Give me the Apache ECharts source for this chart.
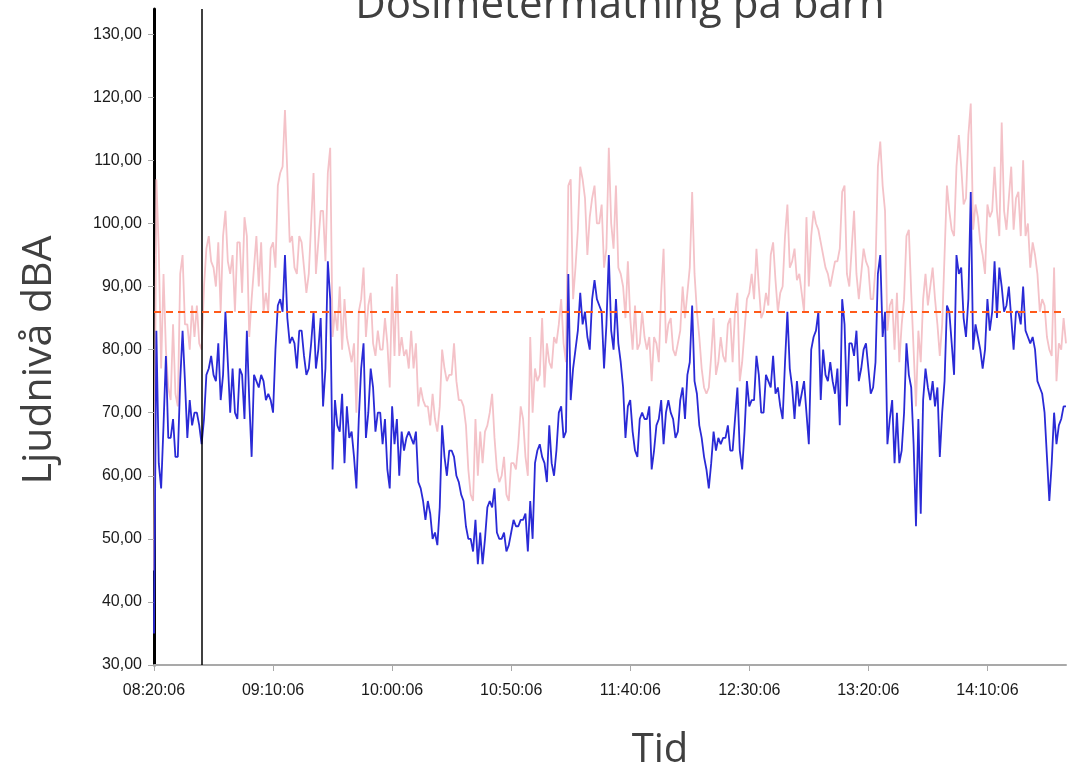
<!DOCTYPE html>
<html>
<head>
<meta charset="utf-8">
<title>Dosimetermätning på barn</title>
<script src="https://cdn.jsdelivr.net/npm/echarts@6/dist/echarts.min.js"></script>
<style>
  html, body { margin: 0; padding: 0; background: #fff; }
  #chart { width: 1079px; height: 769px; }
</style>
</head>
<body>
<div id="chart"></div>
<script>
// one sample per minute, starting 08:20:06
const levelDb = [
  35, 83, 62, 58, 68, 79, 66, 66, 69, 63,
  63, 75, 83, 75, 66, 72, 68, 70, 70, 68,
  65, 69, 76, 77, 79, 76, 75, 81, 72, 76,
  86, 78, 70, 77, 70, 69, 77, 76, 69, 83,
  72, 63, 76, 75, 74, 76, 75, 72, 73, 72,
  70, 80, 87, 88, 86, 95, 85, 81, 82, 81,
  77, 83, 83, 79, 76, 77, 81, 86, 77, 80,
  85, 71, 77, 94, 88, 61, 72, 68, 67, 73,
  62, 71, 66, 67, 63, 58, 69, 77, 81, 66,
  70, 77, 74, 67, 70, 70, 65, 69, 61, 58,
  71, 65, 69, 60, 67, 64, 66, 67, 66, 65,
  67, 59, 58, 56, 53, 56, 54, 50, 51, 49,
  55, 68, 63, 60, 64, 64, 63, 60, 59, 57,
  56, 52, 50, 50, 48, 53, 46, 51, 46, 50,
  55, 56, 55, 58, 51, 50, 50, 51, 48, 49,
  51, 53, 52, 52, 53, 53, 54, 48, 56, 50,
  62, 64, 65, 63, 62, 59, 68, 62, 60, 64,
  70, 71, 66, 67, 92, 72, 77, 80, 83, 89,
  84, 86, 82, 80, 88, 91, 88, 87, 86, 77,
  84, 95, 83, 80, 88, 81, 78, 74, 66, 71,
  72, 67, 64, 63, 69, 70, 69, 69, 71, 61,
  64, 68, 69, 72, 65, 70, 72, 70, 69, 66,
  67, 72, 74, 69, 76, 78, 87, 75, 73, 68,
  66, 63, 61, 58, 62, 67, 64, 66, 65, 66,
  66, 68, 64, 64, 69, 74, 64, 61, 67, 75,
  71, 72, 72, 79, 76, 70, 70, 76, 75, 74,
  79, 73, 74, 71, 69, 78, 86, 77, 74, 69,
  75, 71, 73, 75, 70, 65, 80, 82, 83, 86,
  72, 80, 76, 75, 78, 75, 73, 77, 68, 88,
  84, 71, 81, 81, 79, 83, 75, 77, 80, 81,
  77, 73, 74, 78, 92, 95, 82, 86, 65, 69,
  72, 62, 70, 62, 64, 70, 81, 76, 74, 65,
  52, 69, 54, 72, 77, 74, 72, 75, 71, 74,
  63, 70, 75, 87, 86, 81, 76, 95, 92, 93,
  85, 82, 88, 105, 80, 84, 82, 80, 77, 80,
  88, 83, 86, 94, 85, 93, 90, 86, 87, 90,
  85, 80, 86, 86, 84, 90, 83, 82, 81, 82,
  80, 75, 74, 73, 70, 63, 56, 62, 70, 65,
  68, 69, 71, 71
];
const peakDb = [
  45, 107, 96, 77, 92, 80, 74, 72, 84, 73,
  71, 92, 95, 84, 84, 80, 87, 82, 87, 81,
  80, 90, 96, 98, 94, 93, 90, 97, 86, 98,
  102, 94, 92, 95, 86, 97, 97, 89, 101, 98,
  82, 88, 93, 98, 90, 97, 86, 89, 86, 96,
  97, 93, 106, 108, 109, 118, 108, 97, 98, 93,
  92, 98, 97, 93, 89, 92, 100, 108, 92, 97,
  102, 102, 94, 108, 112, 82, 86, 83, 90, 80,
  88, 82, 80, 78, 81, 70, 86, 88, 93, 82,
  87, 89, 81, 79, 83, 80, 80, 85, 81, 74,
  90, 79, 92, 79, 82, 79, 80, 77, 83, 77,
  81, 71, 74, 72, 71, 71, 68, 73, 69, 67,
  71, 80, 77, 75, 76, 76, 81, 75, 72, 72,
  71, 68, 61, 57, 56, 69, 60, 67, 62, 67,
  68, 70, 73, 66, 61, 59, 60, 63, 57, 56,
  62, 62, 61, 65, 71, 69, 63, 60, 82, 70,
  77, 75, 76, 85, 74, 81, 78, 77, 82, 81,
  84, 88, 81, 78, 106, 107, 88, 93, 99, 109,
  107, 104, 95, 101, 104, 106, 100, 100, 103, 93,
  96, 112, 100, 96, 106, 93, 92, 90, 85, 94,
  85, 80, 87, 80, 81, 86, 82, 80, 82, 75,
  82, 81, 78, 89, 96, 81, 84, 85, 80, 79,
  81, 83, 90, 85, 89, 93, 105, 92, 86, 82,
  77, 74, 73, 74, 79, 85, 76, 78, 82, 79,
  78, 84, 85, 78, 86, 89, 75, 78, 83, 88,
  89, 92, 88, 96, 90, 85, 86, 89, 87, 95,
  97, 91, 86, 89, 90, 98, 103, 93, 94, 96,
  91, 92, 89, 86, 101, 90, 98, 102, 100, 99,
  97, 95, 93, 92, 90, 92, 94, 94, 96, 105,
  106, 92, 90, 96, 102, 92, 88, 92, 96, 94,
  93, 88, 88, 93, 109, 113, 106, 102, 83, 87,
  88, 80, 89, 78, 84, 88, 98, 99, 89, 80,
  71, 83, 78, 88, 92, 87, 90, 93, 88, 84,
  79, 84, 95, 106, 102, 99, 98, 109, 114, 109,
  103, 104, 114, 119, 99, 103, 101, 97, 95, 92,
  103, 101, 102, 109, 102, 98, 116, 102, 99, 104,
  109, 99, 104, 105, 98, 110, 98, 100, 93, 97,
  95, 92, 86, 88, 87, 82, 80, 79, 93, 75,
  81, 80, 85, 81
];
const xTickMinutes = [0, 50, 100, 150, 200, 250, 300, 350];
const xTickLabels = ['08:20:06', '09:10:06', '10:00:06', '10:50:06', '11:40:06', '12:30:06', '13:20:06', '14:10:06'];
const yTicks = [30, 40, 50, 60, 70, 80, 90, 100, 110, 120, 130];
const limitDb = 86;
const markerMinute = 20.2;

const toPairs = arr => arr.map((v, i) => [i, v]);
const fmtY = v => v.toFixed(2).replace('.', ',');

const chart = echarts.init(document.getElementById('chart'));
chart.setOption({
  animation: false,
  backgroundColor: '#fff',
  grid: { left: 154, right: 13, top: 9, bottom: 104, outerBoundsMode: 'none' },
  xAxis: {
    type: 'value',
    min: 0,
    max: levelDb.length - 1,
    splitLine: { show: false },
    axisLine: { show: true, lineStyle: { color: '#a9a9a9', width: 2 } },
    axisTick: { show: true, length: 6, customValues: xTickMinutes, lineStyle: { color: '#a9a9a9' } },
    axisLabel: {
      customValues: xTickMinutes,
      formatter: v => xTickLabels[xTickMinutes.indexOf(v)] || '',
      color: '#1a1a1a', fontFamily: 'Liberation Sans', fontSize: 16, margin: 18
    }
  },
  yAxis: {
    type: 'value',
    min: 30,
    max: 134,
    interval: 10,
    splitLine: { show: false },
    axisLine: { show: true, lineStyle: { color: '#000', width: 3 } },
    axisTick: { show: true, length: 6, customValues: yTicks, lineStyle: { color: '#a9a9a9' } },
    axisLabel: {
      customValues: yTicks,
      formatter: fmtY,
      color: '#1a1a1a', fontFamily: 'Liberation Sans', fontSize: 16, margin: 12
    }
  },
  graphic: [
    { type: 'text', x: 620, y: 6, style: { text: 'Dosimetermätning på barn', align: 'center', verticalAlign: 'middle', font: '42px "Open Sans"', fill: '#404040' } },
    { type: 'text', x: 39, y: 360, rotation: Math.PI / 2, style: { text: 'Ljudnivå dBA', align: 'center', verticalAlign: 'middle', font: '41px "Open Sans"', fill: '#404040' } },
    { type: 'text', x: 660, y: 751, style: { text: 'Tid', align: 'center', verticalAlign: 'middle', font: '40px "Open Sans"', fill: '#404040' } }
  ],
  series: [
    {
      type: 'line', data: [], z: 1, silent: true,
      markLine: {
        symbol: 'none', silent: true, animation: false,
        label: { show: false },
        lineStyle: { color: '#000', width: 1.5, type: 'solid' },
        data: [{ xAxis: markerMinute }]
      }
    },
    {
      name: 'Peak', type: 'line', data: toPairs(peakDb), z: 2,
      showSymbol: false, symbol: 'none',
      lineStyle: { color: '#f4c2c8', width: 1.8 }
    },
    {
      name: 'Nivå', type: 'line', data: toPairs(levelDb), z: 3,
      showSymbol: false, symbol: 'none',
      lineStyle: { color: '#2a2ad6', width: 1.8 },
      markLine: {
        symbol: 'none', silent: true, animation: false,
        label: { show: false },
        lineStyle: { color: '#ff5a1a', width: 2, type: [7, 5] },
        data: [{ yAxis: limitDb }]
      }
    }
  ]
});
</script>
</body>
</html>
